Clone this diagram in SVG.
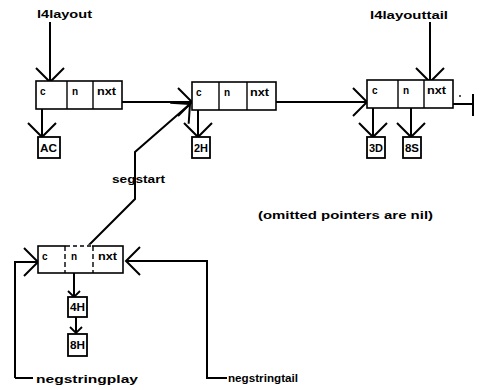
<svg xmlns="http://www.w3.org/2000/svg" width="480" height="390" viewBox="0 0 480 390">
<defs>
<marker id="arr" markerUnits="userSpaceOnUse" markerWidth="20" markerHeight="32" refX="15" refY="15" orient="auto" overflow="visible">
<path d="M1,1 L15,15 L1,29" fill="none" stroke="#000" stroke-width="2"/>
</marker>
<marker id="arrs" markerUnits="userSpaceOnUse" markerWidth="12" markerHeight="16" refX="7" refY="7" orient="auto" overflow="visible">
<path d="M1,1 L7,7 L1,13" fill="none" stroke="#000" stroke-width="1.8"/>
</marker>
</defs>
<style>
rect.cell{fill:#fff;stroke:#000;stroke-width:1.6}
line.div{stroke:#000;stroke-width:1.4}
rect.val{fill:#fff;stroke:#000;stroke-width:1.8}
text{font-family:"Liberation Sans",Arial,sans-serif;font-weight:bold;fill:#000}
.lbl{font-size:10px}
.cl{font-size:10px}
.vl{font-size:10px}
.conn{fill:none;stroke:#000;stroke-width:2}
</style>
<rect width="480" height="390" fill="#fff"/>

<g id="connectors">
<path class="conn" d="M50,22 V82" marker-end="url(#arr)"/>
<path class="conn" d="M42,109 V137" marker-end="url(#arr)"/>
<path class="conn" d="M116,102 H192" marker-end="url(#arr)"/>
<path class="conn" d="M198,110 V137" marker-end="url(#arr)"/>
<path class="conn" d="M262,102 H367" marker-end="url(#arr)"/>
<path class="conn" d="M430,22 V82" marker-end="url(#arr)"/>
<path class="conn" d="M373,108 V137" marker-end="url(#arr)"/>
<path class="conn" d="M411,108 V137" marker-end="url(#arr)"/>
<path class="conn" d="M440,104 H473"/>
<path class="conn" d="M473,94 V116"/>
<path class="conn" d="M88,246 L135,199 V152 L190,104" marker-end="url(#arr)"/>
<path class="conn" d="M15,378 H33 M15,378 V262 H38" marker-end="url(#arr)"/>
<path class="conn" d="M227,378 H207 V261 H126" marker-end="url(#arr)"/>
<path class="conn" d="M74,273 V297" marker-end="url(#arrs)"/>
<path class="conn" d="M76,317 V333" marker-end="url(#arrs)"/>
</g>

<g id="l4layout-label"><text class="lbl" x="37" y="18" textLength="55" lengthAdjust="spacingAndGlyphs">l4layout</text></g>
<g id="l4layouttail-label"><text class="lbl" x="370" y="19" textLength="78" lengthAdjust="spacingAndGlyphs">l4layouttail</text></g>

<g id="node1">
<rect class="cell" x="36" y="81" width="86" height="28"/>
<line class="div" x1="67" y1="81" x2="67" y2="109"/>
<line class="div" x1="93" y1="81" x2="93" y2="109"/>
<text class="cl" x="40" y="95">c</text>
<text class="cl" x="72" y="95">n</text>
<text class="cl" x="97" y="95" textLength="19" lengthAdjust="spacingAndGlyphs">nxt</text>
</g>
<g id="valAC"><rect class="val" x="38" y="137" width="22" height="21"/><text class="vl" x="40" y="152" textLength="17" lengthAdjust="spacingAndGlyphs">AC</text></g>

<g id="node2">
<rect class="cell" x="192" y="82" width="84" height="28"/>
<line class="div" x1="219" y1="82" x2="219" y2="110"/>
<line class="div" x1="247" y1="82" x2="247" y2="110"/>
<text class="cl" x="196" y="96">c</text>
<text class="cl" x="224" y="96">n</text>
<text class="cl" x="250" y="96" textLength="19" lengthAdjust="spacingAndGlyphs">nxt</text>
</g>
<g id="val2H"><rect class="val" x="192" y="137" width="18" height="21"/><text class="vl" x="194" y="152" textLength="14" lengthAdjust="spacingAndGlyphs">2H</text></g>

<g id="node3">
<rect class="cell" x="367" y="80" width="86" height="28"/>
<line class="div" x1="398" y1="80" x2="398" y2="108"/>
<line class="div" x1="424" y1="80" x2="424" y2="108"/>
<text class="cl" x="372" y="94">c</text>
<text class="cl" x="403" y="94">n</text>
<text class="cl" x="427" y="94" textLength="19" lengthAdjust="spacingAndGlyphs">nxt</text>
</g>
<circle cx="460" cy="96" r="0.9" fill="#000"/>
<g id="val3D"><rect class="val" x="367" y="137" width="18" height="21"/><text class="vl" x="369" y="152" textLength="14" lengthAdjust="spacingAndGlyphs">3D</text></g>
<g id="val8S"><rect class="val" x="403" y="137" width="18" height="21"/><text class="vl" x="405" y="152" textLength="14" lengthAdjust="spacingAndGlyphs">8S</text></g>

<g id="segstart-label"><text class="lbl" x="112" y="183" textLength="53" lengthAdjust="spacingAndGlyphs">segstart</text></g>

<g id="note"><text x="258" y="219" font-size="10.5" textLength="175" lengthAdjust="spacingAndGlyphs">(omitted pointers are nil)</text></g>

<g id="node4">
<rect class="cell" x="38" y="246" width="85" height="27"/>
<line x1="66" y1="246" x2="92" y2="246" stroke="#fff" stroke-width="2.5"/>
<line class="div" x1="66" y1="246" x2="92" y2="246" stroke-dasharray="4,3"/>
<line class="div" x1="65" y1="246" x2="65" y2="273" stroke-dasharray="5,3"/>
<line class="div" x1="93" y1="246" x2="93" y2="273" stroke-dasharray="5,3"/>
<text class="cl" x="42" y="260">c</text>
<text class="cl" x="71" y="260">n</text>
<text class="cl" x="98" y="260" textLength="19" lengthAdjust="spacingAndGlyphs">nxt</text>
</g>
<g id="val4H"><rect class="val" x="68" y="297" width="19" height="20"/><text class="vl" x="70" y="311" textLength="15" lengthAdjust="spacingAndGlyphs">4H</text></g>
<g id="val8H"><rect class="val" x="68" y="334" width="19" height="22"/><text class="vl" x="70" y="349" textLength="15" lengthAdjust="spacingAndGlyphs">8H</text></g>

<g id="negstringplay-label"><text class="lbl" x="36" y="383" textLength="102" lengthAdjust="spacingAndGlyphs">negstringplay</text></g>
<g id="negstringtail-label"><text class="lbl" x="228" y="382" textLength="70" lengthAdjust="spacingAndGlyphs">negstringtail</text></g>
</svg>
